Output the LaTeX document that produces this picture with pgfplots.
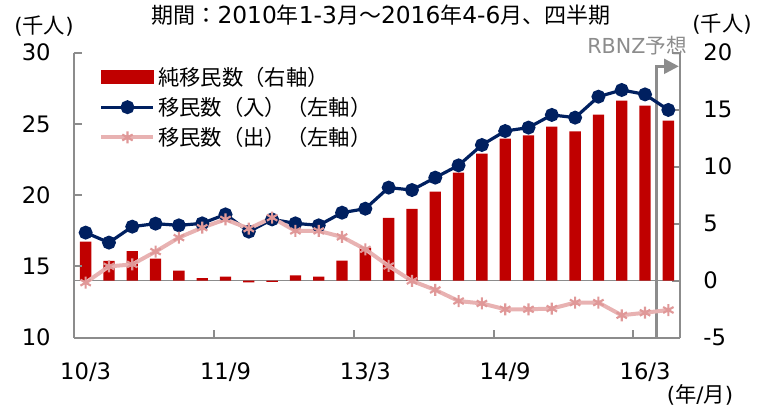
\documentclass[border=0pt]{standalone}
\usepackage{pgfplots}
\pgfplotsset{compat=1.18}
\usetikzlibrary{arrows.meta}
\usepackage{fontspec}
\setmainfont{DejaVu Sans}
\newfontfamily\cjk{Noto Sans CJK JP}
\definecolor{barred}{HTML}{C00000}
\definecolor{navy}{HTML}{002060}
\definecolor{pinkline}{HTML}{E8B2B2}
\definecolor{pinkmark}{HTML}{E09898}
\definecolor{axisgray}{HTML}{8C8C8C}

\pgfplotsset{
  mylegline/.style={legend image code/.code={\draw[mark repeat=2, mark phase=2, ##1] plot coordinates {(0pt,0pt) (19.5pt,0pt) (39pt,0pt)};}},
  mylegbar/.style={legend image code/.code={\fill[barred] (0pt,-4.9pt) rectangle (39pt,4.9pt);}},
  common/.style={
    scale only axis, width=454.5pt, height=213.75pt,
    xmin=-0.5, xmax=25.5,
    axis line style={axisgray, line width=1.5pt},
    tick style={axisgray, line width=1.5pt},
    tick align=inside, major tick length=6pt,
    tick label style={font=\fontsize{17}{20}\selectfont},
    /pgf/number format/assume math mode=true,
    clip=false,
  }
}

\pgfplotstableread{
x net
0 3.42
1 1.73
2 2.60
3 1.93
4 0.88
5 0.23
6 0.35
7 -0.15
8 -0.10
9 0.47
10 0.35
11 1.75
12 2.90
13 5.50
14 6.30
15 7.80
16 9.47
17 11.14
18 12.46
19 12.75
20 13.50
21 13.10
22 14.56
23 15.79
24 15.35
25 14.04
}\nettab

\pgfplotstableread{
x arr dep
0 17.37 13.86
1 16.67 15.00
2 17.79 15.14
3 18.00 16.04
4 17.88 17.02
5 18.02 17.72
6 18.65 18.30
7 17.44 17.65
8 18.30 18.42
9 18.02 17.49
10 17.88 17.49
11 18.77 17.07
12 19.05 16.20
13 20.53 15.03
14 20.36 13.98
15 21.23 13.35
16 22.09 12.57
17 23.52 12.40
18 24.50 11.99
19 24.74 11.99
20 25.63 12.04
21 25.44 12.46
22 26.91 12.46
23 27.38 11.57
24 27.07 11.75
25 25.98 11.94
}\migtab

\begin{document}
\begin{tikzpicture}
% right axis: bars
\begin{axis}[common,
  ymin=-5, ymax=20, ytick={-5,0,5,10,15,20},
  axis y line*=right, axis x line*=bottom,
  xtick={0,6,12,18,24}, xticklabels={10/3,11/9,13/3,14/9,16/3},
  xtick style={draw=none},
  xticklabel shift=15pt, yticklabel shift=14pt,
]
\draw[axisgray, line width=1.2pt] (axis cs:-0.5,0) -- (axis cs:25.5,0);
\addplot[ybar, bar width=8.5pt, fill=barred, draw=none] table[x=x,y=net] {\nettab};
\draw[axisgray, line width=2pt, -{Triangle[length=11pt,width=11pt]}] (axis cs:24.5,-5) -- (axis cs:24.5,18.8) -- (axis cs:25.45,18.8);
\end{axis}
% left axis: lines
\begin{axis}[common,
  ymin=10, ymax=30, ytick={10,15,20,25,30},
  axis y line*=left, axis x line*=bottom,
  xtick={5.5,11.5,17.5,23.5}, xticklabels={},
  yticklabel shift=14pt,
  legend cell align=left,
  legend style={at={(0.035,0.97)}, anchor=north west, draw=none, fill=none,
    font=\cjk\fontsize{16}{18}\selectfont, row sep=3.5pt},
]
\addlegendimage{mylegbar}
\addlegendentry{純移民数（右軸）}
\addplot[navy, line width=2.4pt, mark=*, mark size=4pt, mark options={fill=navy, draw=navy}, mylegline]
  table[x=x,y=arr] {\migtab};
\addlegendentry{移民数（入）（左軸）}
\addplot[pinkline, line width=3pt, mark=asterisk, mark size=4.5pt, mark options={draw=pinkmark, line width=1.6pt}, mylegline]
  table[x=x,y=dep] {\migtab};
\addlegendentry{移民数（出）（左軸）}
\end{axis}
% annotations in pixel coordinates
\begin{scope}[x=0.75pt, y=-0.75pt, shift={(-55.5pt,251.25pt)}]
\path (0,0) rectangle (759,403);
\node[font=\fontsize{17.5}{20}\selectfont] at (381,12) {{\cjk\fontsize{16.5}{20}\selectfont 期間：}2010{\cjk\fontsize{16.5}{20}\selectfont 年}1-3{\cjk\fontsize{16.5}{20}\selectfont 月～}2016{\cjk\fontsize{16.5}{20}\selectfont 年}4-6{\cjk\fontsize{16.5}{20}\selectfont 月、四半期}};
\node[font=\fontsize{16}{19}\selectfont] at (44,23) {({\cjk 千人})};
\node[font=\fontsize{16}{19}\selectfont] at (722,21) {({\cjk 千人})};
\node[font=\fontsize{15.5}{18}\selectfont, text=axisgray] at (637,43) {RBNZ{\cjk 予想}};
\node[font=\fontsize{16}{19}\selectfont] at (700,392) {({\cjk 年}/{\cjk 月})};
\end{scope}
\end{tikzpicture}
\end{document}
